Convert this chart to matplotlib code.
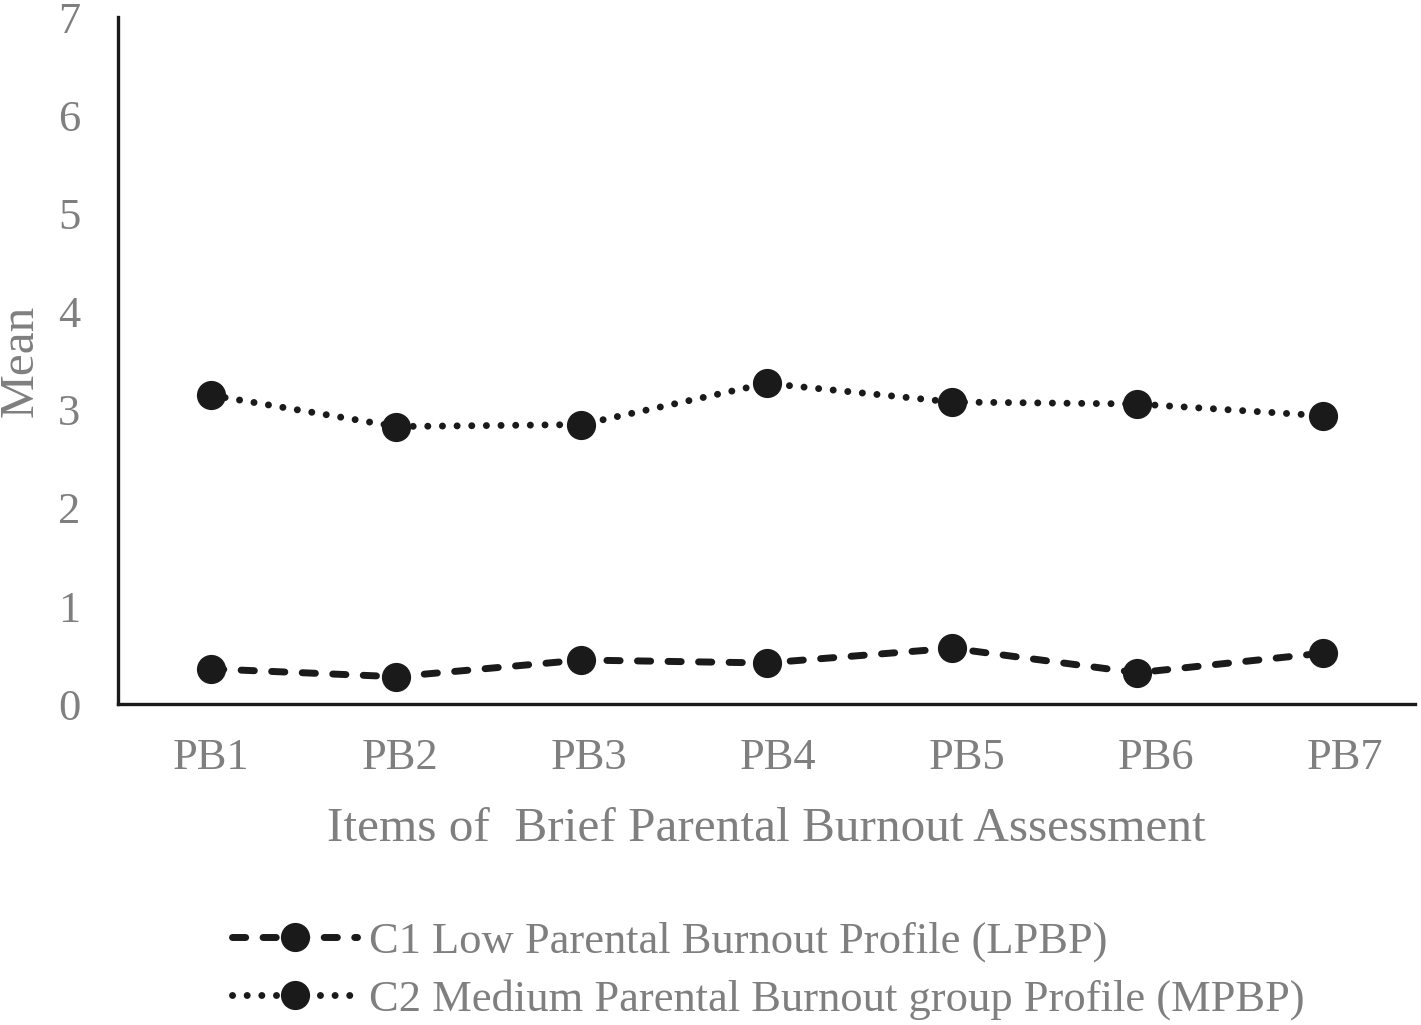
import matplotlib.pyplot as plt

items = ['PB1', 'PB2', 'PB3', 'PB4', 'PB5', 'PB6', 'PB7']
c1_low = [0.36, 0.28, 0.45, 0.42, 0.57, 0.32, 0.52]
c2_medium = [3.15, 2.83, 2.85, 3.27, 3.08, 3.06, 2.94]
y_ticks = [0, 1, 2, 3, 4, 5, 6, 7]

plt.rcParams['font.family'] = ['Liberation Serif', 'DejaVu Serif']
gray = '#7f7f7f'
ink = '#1a1a1a'

fig = plt.figure(figsize=(14.21, 10.25), dpi=100)
ax = fig.add_axes([0.083, 0.313, 0.913, 0.670])

x = range(len(items))
ax.plot(x, c1_low, color=ink, lw=5, dashes=(1.9, 2.5), dash_capstyle='round',
        marker='o', ms=20, label='C1 Low Parental Burnout Profile (LPBP)')
ax.plot(x, c2_medium, color=ink, lw=5, dashes=(0.01, 2.1), dash_capstyle='round',
        marker='o', ms=20, label='C2 Medium Parental Burnout group Profile (MPBP)')

ax.set_xlim(-0.5, len(items) - 0.5)
ax.set_ylim(0, 7)
# the category labels in the original sit a little wider apart than the points
ax.set_xticks([i * 1.02 for i in x])
ax.set_xticklabels(items)
ax.set_yticks(y_ticks)
ax.tick_params(length=0, labelsize=32, labelcolor=gray)
ax.tick_params(axis='x', pad=24)
ax.tick_params(axis='y', pad=27)

for side in ['top', 'right']:
    ax.spines[side].set_visible(False)
for side in ['left', 'bottom']:
    ax.spines[side].set_color(ink)
    ax.spines[side].set_linewidth(2.4)

ax.set_xlabel('Items of  Brief Parental Burnout Assessment', fontsize=35.5, color=gray, labelpad=21)
ax.set_ylabel('Mean', fontsize=35.5, color=gray, labelpad=11)

fig.legend(loc='upper left', bbox_to_anchor=(0.151, 0.118), frameon=False,
           fontsize=32, labelcolor=gray, handlelength=2.8, handletextpad=0.28,
           labelspacing=0.38, borderaxespad=0)

plt.savefig('out.png', dpi=100)
plt.close()
